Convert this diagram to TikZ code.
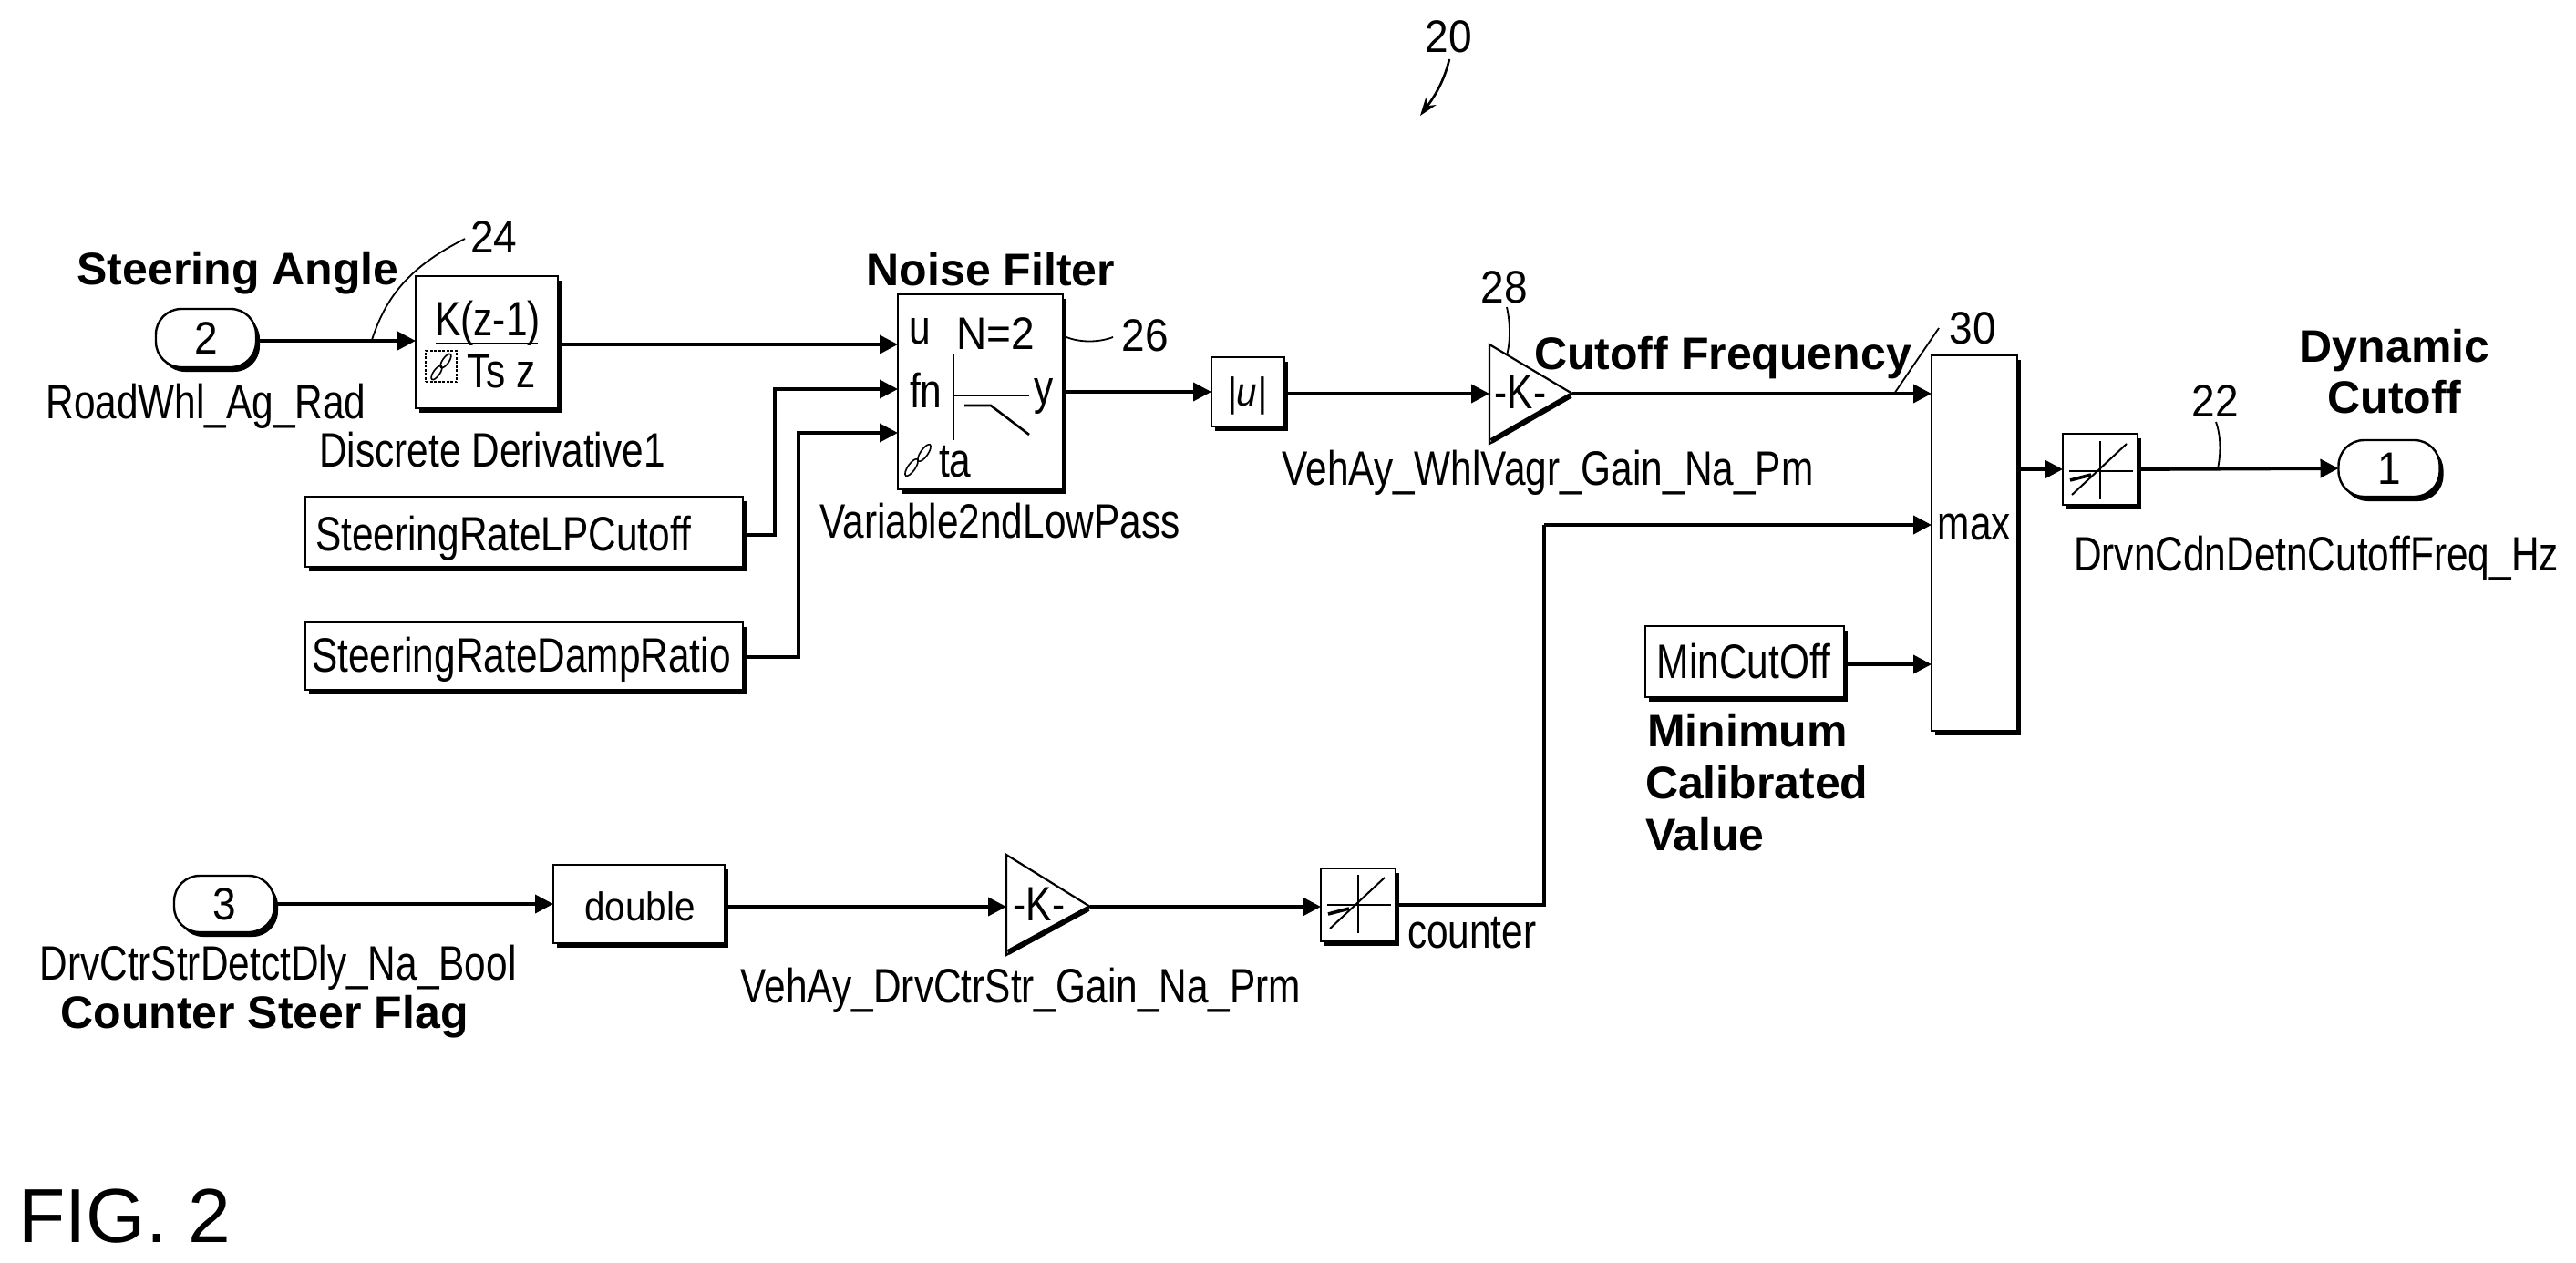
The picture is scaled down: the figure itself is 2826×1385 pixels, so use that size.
\documentclass[tikz,border=0pt]{standalone}
\usepackage{fontspec}
\usetikzlibrary{arrows.meta,shadows}
\setmainfont{Liberation Sans}
\newfontfamily\cndfam[FakeStretch=0.80]{Liberation Sans}
\newfontfamily\numfam[FakeStretch=0.92]{Liberation Sans}
\newcommand{\cnd}{\fontsize{53}{60}\selectfont\cndfam}
\newcommand{\midf}{\fontsize{44}{50}\selectfont\numfam}
\newcommand{\numb}{\fontsize{50}{56}\selectfont\numfam}
\newcommand{\bld}{\fontsize{50}{56}\selectfont\bfseries}
\tikzset{
  x=1pt,y=-1pt,
  blk/.style={draw=black,line width=2.4pt,fill=white,rectangle,inner sep=0pt,outer sep=0pt,
    drop shadow={shadow xshift=4pt,shadow yshift=-5pt,fill=black,opacity=1}},
  port/.style={blk,rounded corners=28pt},
  conn/.style={line width=3.8pt,-{Triangle[length=20pt,width=20pt]}},
  wire/.style={line width=3.8pt},
  lead/.style={line width=1.8pt},
  thinl/.style={line width=2pt},
  txt/.style={inner sep=0pt,outer sep=0pt,anchor=base,text=black},
  txtl/.style={txt,anchor=base west}
}
\newcommand{\satglyph}{%
  \draw[thinl] (0,-31) -- (0,33);
  \draw[thinl] (-34,2) -- (36,2);
  \draw[thinl] (-31,28) -- (29,-28);
  \draw[line width=3.6pt] (-33,12) -- (-10,6);
}
\begin{document}
\begin{tikzpicture}
\useasboundingbox (0,0) rectangle (2826,1385);
% blocks
\node[port,minimum width=110pt,minimum height=64pt] (intwo) at (226,371) {\numb 2};
\node[blk,minimum width=156pt,minimum height=145pt] (kz) at (534,375.5) {};
\node[blk,minimum width=181pt,minimum height=214pt] (nf) at (1075.5,430) {};
\node[blk,minimum width=480pt,minimum height=77pt] (lp) at (575,583.5) {};
\node[blk,minimum width=480pt,minimum height=74pt] (damp) at (575,720) {};
\node[blk,minimum width=80pt,minimum height=76pt] (abs) at (1369,430) {};
\node[blk,minimum width=94pt,minimum height=412pt] (max) at (2166,596) {};
\node[blk,minimum width=82pt,minimum height=78pt] (satone) at (2304,515) {};
\node[port,minimum width=111pt,minimum height=62pt] (outone) at (2621,514) {\numb 1};
\node[port,minimum width=110pt,minimum height=62pt] (inthree) at (246,992) {\numb 3};
\node[blk,minimum width=188pt,minimum height=86pt] (dbl) at (701,992) {};
\node[blk,minimum width=82pt,minimum height=80pt] (sattwo) at (1490,993) {};
\node[blk,minimum width=218pt,minimum height=78pt] (mincut) at (1914,726) {};
% gain triangles
\coordinate (gaW) at (1634,432); \coordinate (gaE) at (1725,432);
\draw[line width=2.2pt,fill=white,line join=miter] (1634,378) -- (gaE) -- (1634,487) -- cycle;
\draw[line width=6pt] (1636,484) -- (1723,434);
\coordinate (gbW) at (1104,995); \coordinate (gbE) at (1196,995);
\draw[line width=2.2pt,fill=white,line join=miter] (1104,938) -- (gbE) -- (1104,1048) -- cycle;
\draw[line width=6pt] (1106,1045) -- (1194,997);
% ports
\coordinate (kin) at (456,374);
\coordinate (kout) at (612,378);
\coordinate (nfu) at (985,378);
\coordinate (nffn) at (985,427);
\coordinate (nfta) at (985,475);
\coordinate (nfo) at (1166,430);
\coordinate (maxa) at (2119,432);
\coordinate (maxb) at (2119,576);
\coordinate (maxc) at (2119,729);
\coordinate (ca) at (850,587); \coordinate (cb) at (850,427);
\coordinate (da) at (876,721); \coordinate (db) at (876,475);
\coordinate (cta) at (1694,993); \coordinate (ctb) at (1694,576);
% connectors
\draw[conn] (intwo.east |- kin) -- (kin);
\draw[conn] (kout) -- (nfu);
\draw[conn] (lp.east |- ca) -- (ca) -- (cb) -- (nffn);
\draw[conn] (damp.east |- da) -- (da) -- (db) -- (nfta);
\draw[conn] (nfo) -- (abs.west |- nfo);
\draw[conn] (abs.east |- gaW) -- (gaW);
\draw[conn] (gaE) -- (maxa);
\draw[wire] (sattwo.east |- cta) -- (cta) -- (ctb);
\draw[conn] (ctb) -- (maxb);
\draw[conn] (mincut.east |- maxc) -- (maxc);
\draw[conn] (max.east |- satone.west) -- (satone.west);
\draw[conn] (satone.east) -- (outone.west);
\draw[conn] (inthree.east |- dbl.west) -- (dbl.west);
\draw[conn] (dbl.east |- gbW) -- (gbW);
\draw[conn] (gbE) -- (sattwo.west |- gbE);
% block contents
\node[txt] (kt) at (535,368) {\cnd K(z-1)};
\draw[thinl] (478,377) -- (590,377);
\node[draw,line width=1.4pt,dash pattern=on 3pt off 1.5pt,minimum width=34pt,minimum height=34pt,inner sep=0pt] (ikon) at (484,402) {};
\draw[line width=1.6pt,rotate around={55:(479,409)}] (479,409) ellipse [x radius=9pt,y radius=3.5pt];
\draw[line width=1.6pt,rotate around={55:(489,396)}] (489,396) ellipse [x radius=9pt,y radius=3.5pt];
\node[txt] (ts) at (550,425) {\cnd Ts z};
\node[txtl] (nfut) at (997,377) {\cnd u};
\node[txtl] (nfn) at (1049,383) {\numb N=2};
\node[txtl] (nffnt) at (998,447) {\cnd fn};
\node[txtl] (nfy) at (1134,443) {\cnd y};
\node[txtl] (nfta2) at (1030,523) {\cnd ta};
\draw[thinl] (1046,388) -- (1046,483);
\draw[line width=2.6pt] (1046,434) -- (1129,434);
\draw[line width=2.6pt] (1058,445) -- (1087,445) -- (1129,477);
\draw[line width=1.6pt,rotate around={55:(1000,513)}] (1000,513) ellipse [x radius=11pt,y radius=4pt];
\draw[line width=1.6pt,rotate around={55:(1014,497)}] (1014,497) ellipse [x radius=11pt,y radius=4pt];
\node[txt] (lpt) at (552,604) {\cnd SteeringRateLPCutoff};
\node[txt] (dmt) at (572,737) {\cnd SteeringRateDampRatio};
\node[txt] (abst) at (1368,445) {\midf\itshape |u|};
\node[txt] (ka) at (1668,448) {\cnd -K-};
\node[txt] (kb) at (1140,1010) {\cnd -K-};
\node[txt] (maxt) at (2166,592) {\cnd max};
\begin{scope}[shift={(2304,515)}]\satglyph\end{scope}
\begin{scope}[shift={(1490,991)}]\satglyph\end{scope}
\node[txt] (dbt) at (702,1010) {\midf double};
\node[txt] (mct) at (1913,744) {\cnd MinCutOff};
% labels
\node[txt] (l1) at (226,459) {\cnd RoadWhl\_Ag\_Rad};
\node[txt] (l2) at (540,512) {\cnd Discrete Derivative1};
\node[txt] (l3) at (1097,590) {\cnd Variable2ndLowPass};
\node[txt] (l4) at (1698,532) {\cnd VehAy\_WhlVagr\_Gain\_Na\_Pm};
\node[txt] (l5) at (2541,626) {\cnd DrvnCdnDetnCutoffFreq\_Hz};
\node[txt] (l6) at (305,1075) {\cnd DrvCtrStrDetctDly\_Na\_Bool};
\node[txt] (l7) at (1120,1100) {\cnd VehAy\_DrvCtrStr\_Gain\_Na\_Prm};
\node[txtl] (l8) at (1544,1040) {\cnd counter};
\node[txt] (b1) at (261,312) {\bld Steering Angle};
\node[txt] (b2) at (1087,313) {\bld Noise Filter};
\node[txt] (b3) at (1890,405) {\bld Cutoff Frequency};
\node[txt] (b4) at (2627,397) {\bld Dynamic};
\node[txt] (b5) at (2627,453) {\bld Cutoff};
\node[txtl] (b6) at (1807,819) {\bld Minimum};
\node[txtl] (b7) at (1805,876) {\bld Calibrated};
\node[txtl] (b8) at (1805,933) {\bld Value};
\node[txt] (b9) at (290,1128) {\bld Counter Steer Flag};
% reference numbers
\node[txt] (n20) at (1589,57) {\numb 20};
\node[txt] (n24) at (542,277) {\numb 24};
\node[txt] (n26) at (1256,385) {\numb 26};
\node[txt] (n28) at (1650,332) {\numb 28};
\node[txt] (n30) at (2164,377) {\numb 30};
\node[txt] (n22) at (2430,457) {\numb 22};
\node[txtl] (fig) at (20,1363) {\fontsize{84}{90}\selectfont FIG. 2};
% leaders
\coordinate (la) at (510,262); \coordinate (lb) at (408,373);
\draw[lead] (la) .. controls (455,290) and (425,320) .. (lb);
\coordinate (lc) at (1170,370); \coordinate (ld) at (1221,370);
\draw[lead] (lc) .. controls (1185,376) and (1205,376) .. (ld);
\coordinate (le) at (1653,337); \coordinate (lf) at (1653,390);
\draw[lead] (le) .. controls (1657,355) and (1657,375) .. (lf);
\coordinate (lg) at (2127,360); \coordinate (lh) at (2078,432);
\draw[lead] (lg) -- (lh);
\coordinate (li) at (2431,463); \coordinate (lj) at (2433,514);
\draw[lead] (li) .. controls (2437,480) and (2436,500) .. (lj);
\coordinate (lk) at (1590,65); \coordinate (ll) at (1558,127);
\draw[lead,line width=2.6pt,-{Stealth[length=20pt,width=14pt]}] (lk) .. controls (1585,85) and (1578,100) .. (ll);
\end{tikzpicture}
\end{document}
